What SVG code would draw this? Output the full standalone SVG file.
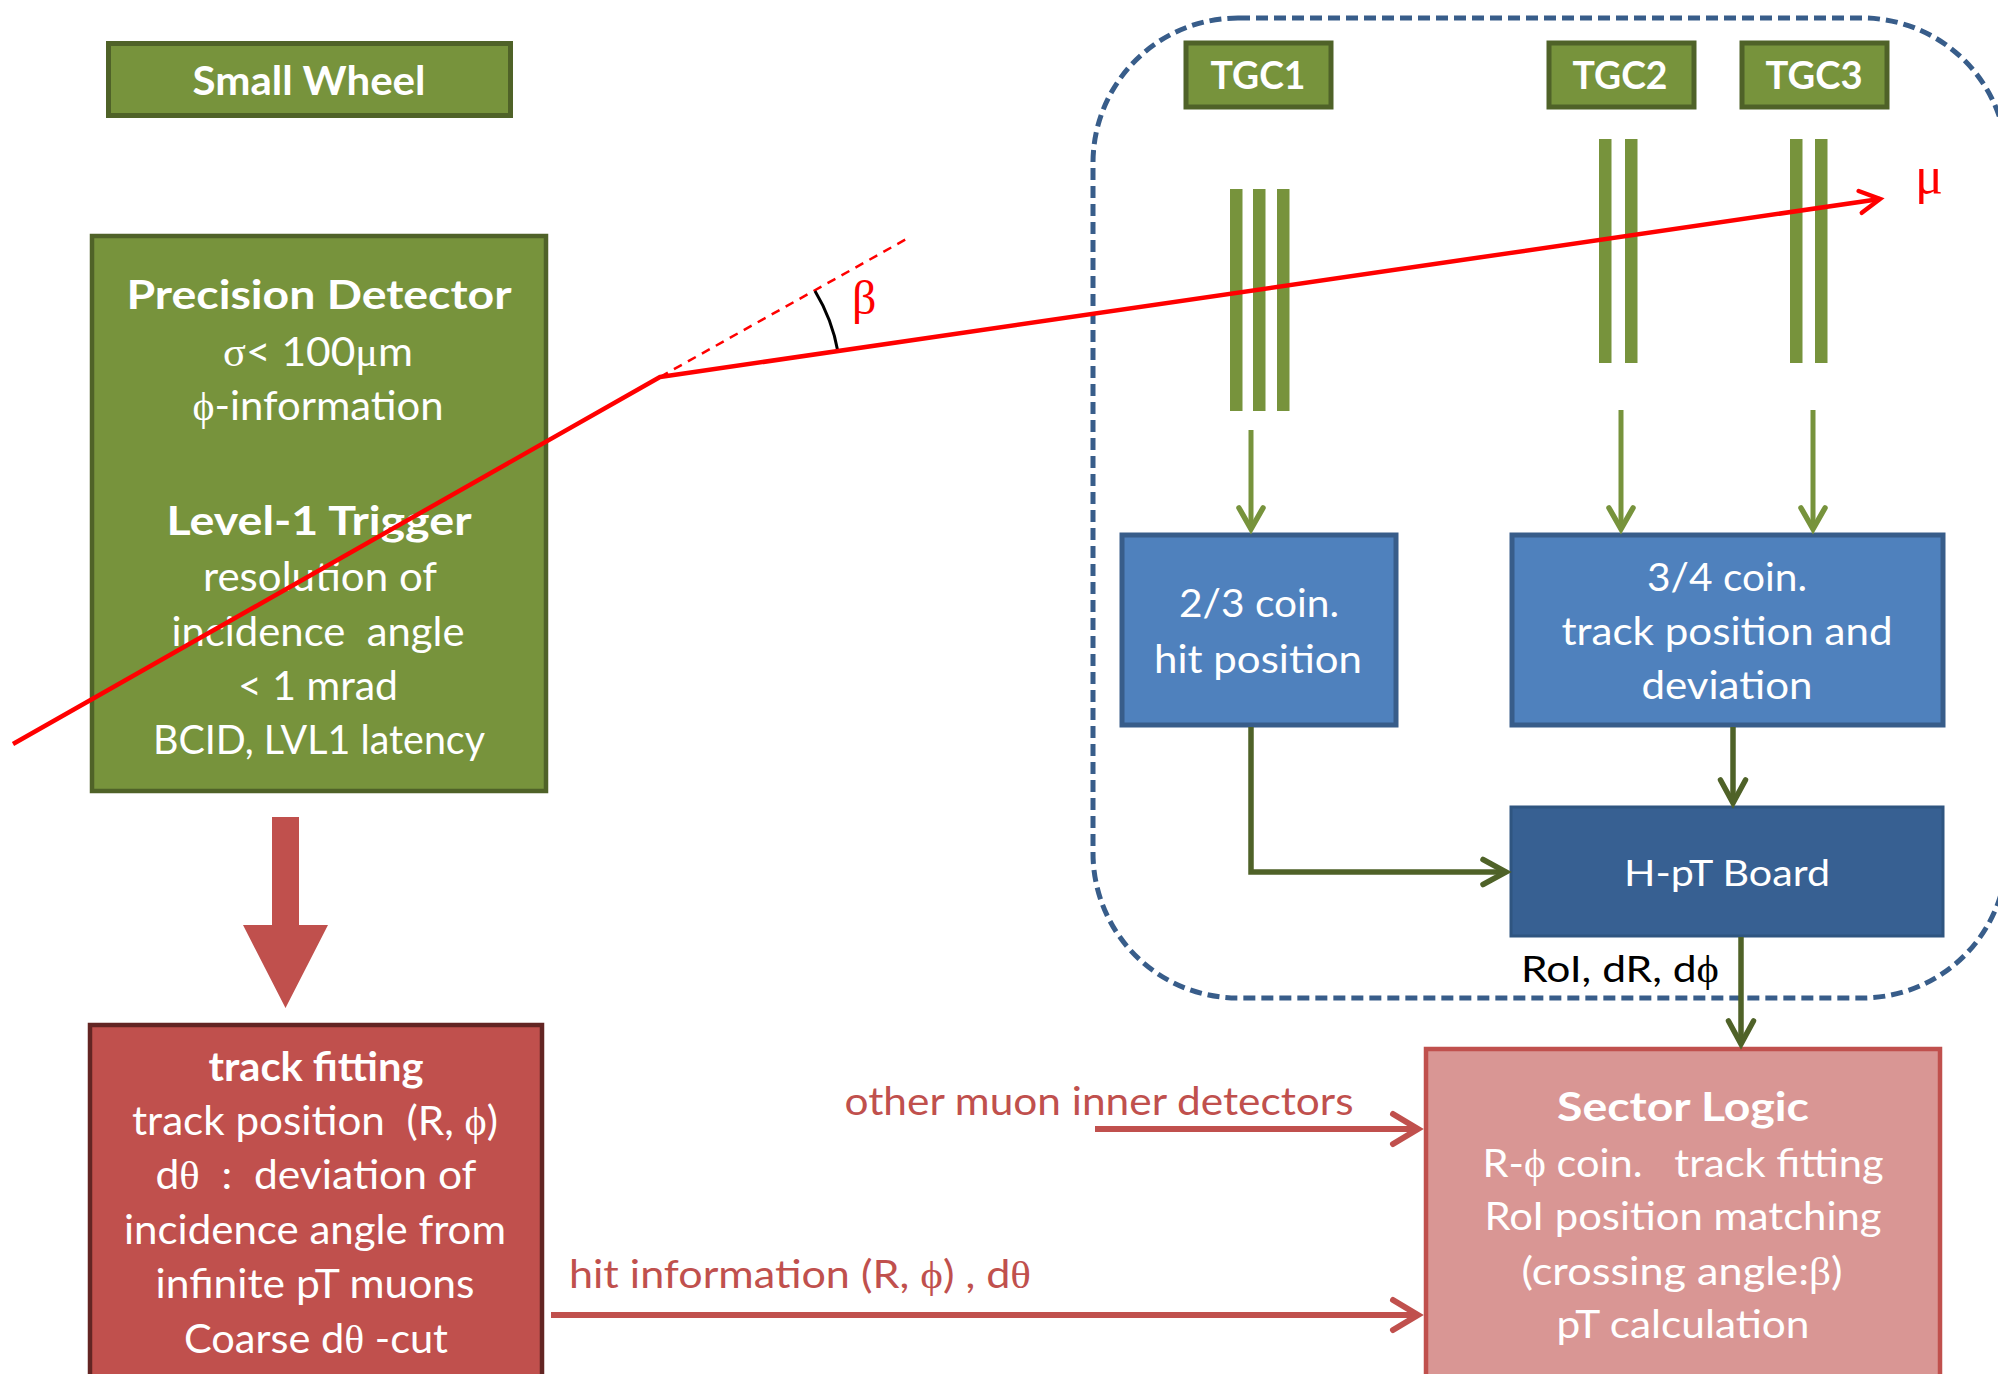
<svg xmlns="http://www.w3.org/2000/svg" width="1998" height="1374" viewBox="0 0 1998 1374">
  <style>
    .t { font-family: Lato, "Open Sans", "Liberation Sans", sans-serif; text-anchor: middle; white-space: pre; }
    .w { fill: #ffffff; }
    .b { font-weight: 700; }
    .gk { font-family: "Liberation Serif", "DejaVu Serif", serif; }
    .green { fill: #77933c; stroke: #4f6228; stroke-width: 5; }
    .blue { fill: #4f81bd; stroke: #385d8a; stroke-width: 5; }
    .navy { fill: #376092; stroke: #2f5580; stroke-width: 3; }
    .strip { fill: #77933c; }
    .lg { fill: none; stroke: #77933c; stroke-width: 5; }
    .dg { fill: none; stroke: #4f6228; stroke-width: 5.5; }
    .rd { fill: none; stroke: #c0504d; stroke-width: 6; }
  </style>
  <defs>
    <marker id="headLight" markerUnits="userSpaceOnUse" orient="auto" markerWidth="40" markerHeight="40" refX="0" refY="0" viewBox="-30 -20 40 40" overflow="visible">
      <path d="M-21,-12 L0,0 L-21,12" fill="none" stroke="#77933c" stroke-width="5.5" stroke-linecap="round"/>
    </marker>
    <marker id="headDark" markerUnits="userSpaceOnUse" orient="auto" markerWidth="40" markerHeight="40" refX="0" refY="0" viewBox="-30 -20 40 40" overflow="visible">
      <path d="M-23,-12.5 L0,0 L-23,12.5" fill="none" stroke="#4f6228" stroke-width="5.5" stroke-linecap="round"/>
    </marker>
    <marker id="headRed" markerUnits="userSpaceOnUse" orient="auto" markerWidth="40" markerHeight="40" refX="0" refY="0" viewBox="-30 -20 40 40" overflow="visible">
      <path d="M-25,-15 L0,0 L-25,15" fill="none" stroke="#c0504d" stroke-width="6" stroke-linecap="round"/>
    </marker>
    <marker id="headMuon" markerUnits="userSpaceOnUse" orient="auto" markerWidth="40" markerHeight="40" refX="0" refY="0" viewBox="-30 -20 40 40" overflow="visible">
      <path d="M-20,-11 L0,0 L-20,11" fill="none" stroke="#ff0000" stroke-width="4.5" stroke-linecap="round"/>
    </marker>
  </defs>

  <rect width="1998" height="1374" fill="#ffffff"/>

  <!-- TGC trigger boundary -->
  <g id="tgc-boundary">
    <rect x="1093" y="18" width="914" height="980" rx="145" ry="145" fill="none" stroke="#385d8a" stroke-width="5" stroke-dasharray="12 6"/>
  </g>

  <!-- Small Wheel label -->
  <g id="small-wheel">
    <rect class="green" x="108.5" y="43.5" width="402" height="72"/>
    <text class="t w b" x="309" y="95" font-size="41" textLength="233" lengthAdjust="spacingAndGlyphs">Small Wheel</text>
  </g>

  <!-- Precision detector / Level-1 trigger box -->
  <g id="precision-detector">
    <rect x="92" y="236" width="454" height="555" fill="#77933c" stroke="#4f6228" stroke-width="4.5"/>
    <text class="t w b" x="319" y="309" font-size="41" textLength="385" lengthAdjust="spacingAndGlyphs">Precision Detector</text>
    <text class="t w" x="318" y="366" font-size="40" textLength="190" lengthAdjust="spacingAndGlyphs"><tspan class="gk">σ</tspan>&lt; 100<tspan class="gk">μ</tspan>m</text>
    <text class="t w" x="318" y="420" font-size="40" textLength="251" lengthAdjust="spacingAndGlyphs"><tspan class="gk">ϕ</tspan>-information</text>
    <text class="t w b" x="319" y="535" font-size="41" textLength="305" lengthAdjust="spacingAndGlyphs">Level-1 Trigger</text>
    <text class="t w" x="320" y="591" font-size="40" textLength="234" lengthAdjust="spacingAndGlyphs">resolution of</text>
    <text class="t w" x="318" y="646" font-size="40" textLength="293" lengthAdjust="spacingAndGlyphs">incidence  angle</text>
    <text class="t w" x="318" y="700" font-size="40" textLength="160" lengthAdjust="spacingAndGlyphs">&lt; 1 mrad</text>
    <text class="t w" x="319" y="754" font-size="40" textLength="332" lengthAdjust="spacingAndGlyphs">BCID, LVL1 latency</text>
  </g>

  <!-- Track fitting box -->
  <g id="track-fitting">
    <rect x="90" y="1025" width="452" height="400" fill="#c0504d" stroke="#632523" stroke-width="4.5"/>
    <text class="t w b" x="316" y="1081" font-size="40" textLength="215" lengthAdjust="spacingAndGlyphs">track fitting</text>
    <text class="t w" x="315" y="1135" font-size="40" textLength="366" lengthAdjust="spacingAndGlyphs">track position  (R, <tspan class="gk">ϕ</tspan>)</text>
    <text class="t w" x="316" y="1189" font-size="40" textLength="321" lengthAdjust="spacingAndGlyphs">d<tspan class="gk">θ</tspan>  :  deviation of</text>
    <text class="t w" x="315" y="1244" font-size="40" textLength="382" lengthAdjust="spacingAndGlyphs">incidence angle from</text>
    <text class="t w" x="315" y="1298" font-size="40" textLength="319" lengthAdjust="spacingAndGlyphs">infinite pT muons</text>
    <text class="t w" x="316" y="1353" font-size="40" textLength="264" lengthAdjust="spacingAndGlyphs">Coarse d<tspan class="gk">θ</tspan> -cut</text>
  </g>

  <!-- TGC station labels -->
  <g id="tgc1">
    <rect class="green" x="1186" y="43" width="145" height="64" stroke-width="4"/>
    <text class="t w b" x="1258" y="89" font-size="38" textLength="95" lengthAdjust="spacingAndGlyphs">TGC1</text>
  </g>
  <g id="tgc2">
    <rect class="green" x="1549" y="43" width="145" height="64" stroke-width="4"/>
    <text class="t w b" x="1620" y="89" font-size="38" textLength="95" lengthAdjust="spacingAndGlyphs">TGC2</text>
  </g>
  <g id="tgc3">
    <rect class="green" x="1742" y="43" width="145" height="64" stroke-width="4"/>
    <text class="t w b" x="1814" y="89" font-size="38" textLength="97" lengthAdjust="spacingAndGlyphs">TGC3</text>
  </g>

  <!-- TGC chamber layers -->
  <g id="tgc-layers">
    <rect class="strip" x="1230" y="189" width="12.5" height="222"/>
    <rect class="strip" x="1253" y="189" width="12.5" height="222"/>
    <rect class="strip" x="1277" y="189" width="12.5" height="222"/>
    <rect class="strip" x="1599" y="139" width="12.5" height="224"/>
    <rect class="strip" x="1625" y="139" width="12.5" height="224"/>
    <rect class="strip" x="1790" y="139" width="12.5" height="224"/>
    <rect class="strip" x="1815" y="139" width="12.5" height="224"/>
  </g>

  <!-- Coincidence boards -->
  <g id="coin-2-3">
    <rect class="blue" x="1122" y="535" width="274" height="190"/>
    <text class="t w" x="1259" y="617" font-size="38" textLength="160" lengthAdjust="spacingAndGlyphs">2/3 coin.</text>
    <text class="t w" x="1258" y="673" font-size="38" textLength="208" lengthAdjust="spacingAndGlyphs">hit position</text>
  </g>
  <g id="coin-3-4">
    <rect class="blue" x="1512" y="535" width="431" height="190"/>
    <text class="t w" x="1727" y="591" font-size="38" textLength="160" lengthAdjust="spacingAndGlyphs">3/4 coin.</text>
    <text class="t w" x="1727" y="645" font-size="38" textLength="331" lengthAdjust="spacingAndGlyphs">track position and</text>
    <text class="t w" x="1727" y="699" font-size="38" textLength="171" lengthAdjust="spacingAndGlyphs">deviation</text>
  </g>
  <g id="hpt-board">
    <rect class="navy" x="1511" y="807" width="432" height="129"/>
    <text class="t w" x="1727" y="886" font-size="37" textLength="206" lengthAdjust="spacingAndGlyphs">H-pT Board</text>
  </g>

  <!-- Sector logic -->
  <g id="sector-logic">
    <rect x="1426" y="1049" width="514" height="380" fill="#d99694" stroke="#c0504d" stroke-width="4.5"/>
    <text class="t w b" x="1683" y="1121" font-size="40" textLength="252" lengthAdjust="spacingAndGlyphs">Sector Logic</text>
    <text class="t w" x="1683" y="1177" font-size="39" textLength="401" lengthAdjust="spacingAndGlyphs">R-<tspan class="gk">ϕ</tspan> coin.   track fitting</text>
    <text class="t w" x="1683" y="1230" font-size="39" textLength="397" lengthAdjust="spacingAndGlyphs">RoI position matching</text>
    <text class="t w" x="1682" y="1285" font-size="39" textLength="321" lengthAdjust="spacingAndGlyphs">(crossing angle:<tspan class="gk">β</tspan>)</text>
    <text class="t w" x="1683" y="1338" font-size="39" textLength="253" lengthAdjust="spacingAndGlyphs">pT calculation</text>
  </g>

  <!-- Data-flow connectors -->
  <g id="connectors">
    <line class="lg" x1="1251" y1="430" x2="1251" y2="529" marker-end="url(#headLight)"/>
    <line class="lg" x1="1621" y1="410" x2="1621" y2="529" marker-end="url(#headLight)"/>
    <line class="lg" x1="1813" y1="410" x2="1813" y2="529" marker-end="url(#headLight)"/>
    <path class="dg" d="M1251,727 V872 H1506" marker-end="url(#headDark)"/>
    <line class="dg" x1="1733" y1="727" x2="1733" y2="803" marker-end="url(#headDark)"/>
    <line class="dg" x1="1741" y1="937" x2="1741" y2="1044" marker-end="url(#headDark)"/>
    <line class="rd" x1="1095" y1="1129" x2="1418" y2="1129" marker-end="url(#headRed)"/>
    <line class="rd" x1="551" y1="1315" x2="1418" y2="1315" marker-end="url(#headRed)"/>
    <polygon points="272,817 299,817 299,925 328,925 285.5,1008 243,925 272,925" fill="#c0504d"/>
    <text class="t" x="1620" y="982" font-size="37" fill="#000000" textLength="198" lengthAdjust="spacingAndGlyphs">RoI, dR, d<tspan class="gk">ϕ</tspan></text>
    <text class="t" x="1099" y="1115" font-size="38" fill="#c0504d" textLength="509" lengthAdjust="spacingAndGlyphs">other muon inner detectors</text>
    <text class="t" x="800" y="1288" font-size="38" fill="#c0504d" textLength="462" lengthAdjust="spacingAndGlyphs">hit information (R, <tspan class="gk">ϕ</tspan>) , d<tspan class="gk">θ</tspan></text>
  </g>

  <!-- Muon track with deflection angle -->
  <g id="muon-track">
    <line x1="660" y1="377" x2="910" y2="237" stroke="#ff0000" stroke-width="2.5" stroke-dasharray="9 7"/>
    <path d="M815,291 A178,178 0 0,1 838,352" fill="none" stroke="#000000" stroke-width="3"/>
    <polyline points="13,744 660,377 1880,199" fill="none" stroke="#ff0000" stroke-width="4.5" stroke-linejoin="round" marker-end="url(#headMuon)"/>
    <text class="gk" x="852" y="314" font-size="48" fill="#ff0000">β</text>
    <text class="gk" x="1915" y="193" font-size="52" fill="#ff0000">μ</text>
  </g>
</svg>
